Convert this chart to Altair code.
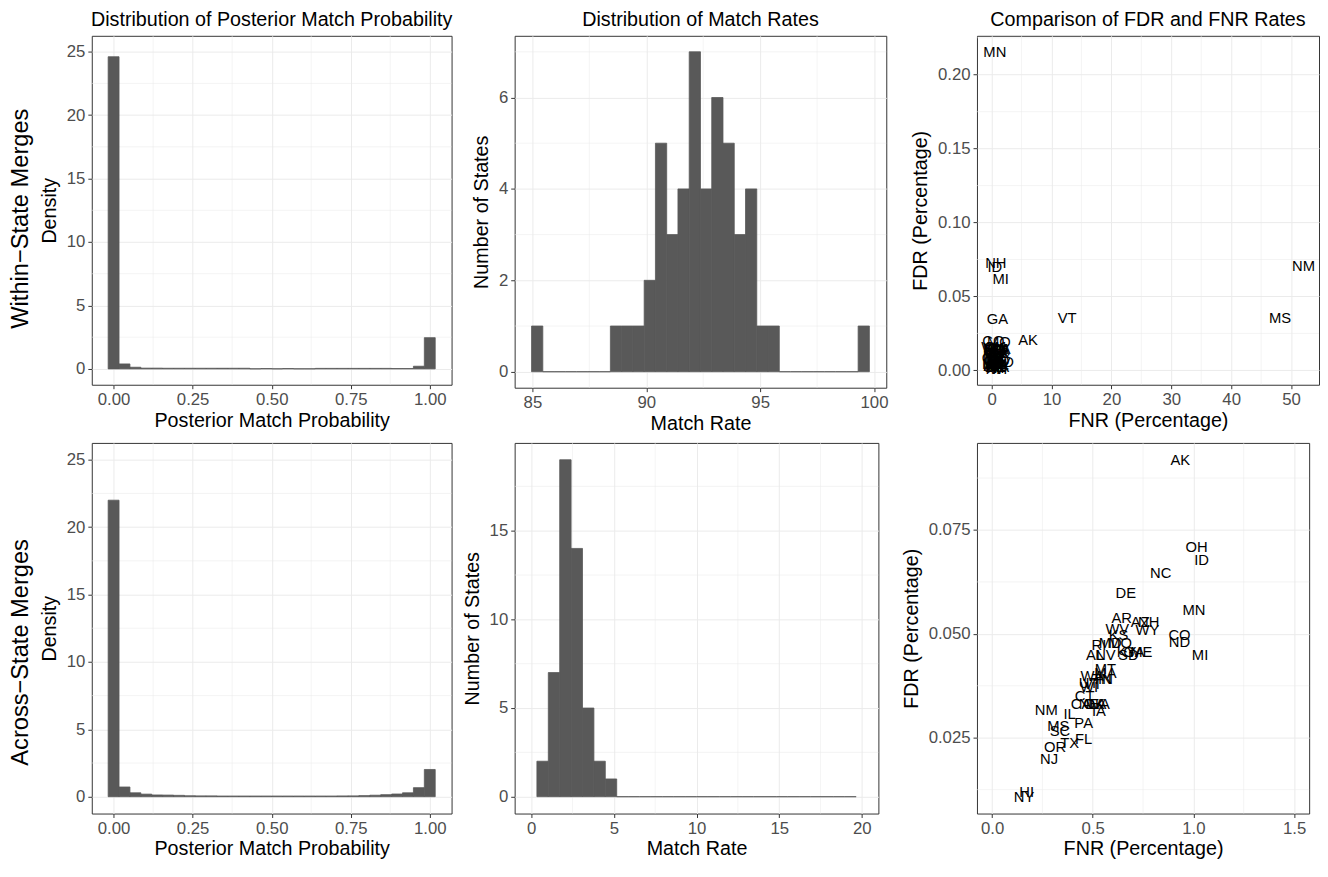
import altair as alt
import pandas as pd

FONT = "Liberation Sans"
BAR = "#595959"
GRID = "#EBEBEB"

# ---------------- text ----------------
row_labels = ["Within\u2212State Merges", "Across\u2212State Merges"]
panel_titles = ["Distribution of Posterior Match Probability",
                "Distribution of Match Rates",
                "Comparison of FDR and FNR Rates"]

# ---------------- posterior match probability (density, 30 bins) ----------------
post_bins = 30
post_within_density = [24.6, 0.39, 0.13, 0.06, 0.06, 0.05, 0.05, 0.05, 0.05, 0.05,
                       0.05, 0.05, 0.05, 0.01, 0.03, 0.01, 0.03, 0.01, 0.01, 0.04,
                       0.04, 0.04, 0.04, 0.04, 0.04, 0.04, 0.03, 0.03, 0.21, 2.46]
post_across_density = [22.0, 0.72, 0.29, 0.19, 0.13, 0.12, 0.10, 0.07, 0.06, 0.06,
                       0.05, 0.05, 0.05, 0.05, 0.05, 0.05, 0.05, 0.05, 0.05, 0.05,
                       0.05, 0.06, 0.06, 0.08, 0.11, 0.15, 0.20, 0.29, 0.67, 2.02]
post_ticks = [0, 0.25, 0.5, 0.75, 1.0]
post_minor = [0.125, 0.375, 0.625, 0.875]
density_limits = [0, 25]
density_ticks = [0, 5, 10, 15, 20, 25]
density_minor = [2.5, 7.5, 12.5, 17.5, 22.5]

# ---------------- match rates within states (counts, 30 bins) ----------------
rate_within_range = [85.21, 99.55]
rate_within_counts = [1, 0, 0, 0, 0, 0, 0, 1, 1, 1, 2, 5, 3, 4, 7,
                      4, 6, 5, 3, 4, 1, 1, 0, 0, 0, 0, 0, 0, 0, 1]
rate_within_ticks = [85, 90, 95, 100]
rate_within_minor = [87.5, 92.5, 97.5]
count_within_ticks = [0, 2, 4, 6]
count_within_minor = [1, 3, 5, 7]

# ---------------- match rates across states (counts, bins over limits 0-20) ----------------
rate_across_limits = [0, 20]
rate_across_counts = [2, 7, 19, 14, 5, 2, 1, 0, 0, 0, 0, 0, 0, 0,
                      0, 0, 0, 0, 0, 0, 0, 0, 0, 0, 0, 0, 0, 0]   # bins 1..28
rate_across_ticks = [0, 5, 10, 15, 20]
rate_across_minor = [2.5, 7.5, 12.5, 17.5]
count_across_ticks = [0, 5, 10, 15]
count_across_minor = [2.5, 7.5, 12.5, 17.5]

# ---------------- FDR vs FNR, within-state ----------------
within_states = ["MN", "NH", "ID", "MI", "GA", "VT", "AK", "MS", "NM", "CO",
                 "AL", "AZ", "AR", "CA", "CT", "DE", "FL", "HI", "IL", "IN",
                 "IA", "KS", "KY", "LA", "ME", "MD", "MA", "MO", "MT", "NE",
                 "NV", "NJ", "NY", "NC", "ND", "OH", "OK", "OR", "PA", "RI",
                 "SC", "SD", "TN", "TX", "UT", "VA", "WA", "WV", "WI", "WY"]
within_fnr = [0.54, 0.70, 0.54, 1.52, 0.97, 12.6, 6.08, 48.15, 52.07, 0.30,
              0.45, 0.80, 0.35, 1.10, 0.30, 0.60, 0.95, 0.20, 1.30, 0.55,
              0.70, 0.40, 0.85, 1.50, 0.25, 1.05, 0.65, 1.20, 0.30, 0.75,
              1.40, 0.50, 0.90, 1.15, 0.35, 0.60, 1.00, 0.20, 1.60, 0.75,
              1.25, 2.00, 0.45, 0.95, 0.15, 1.35, 0.55, 0.80, 1.10, 0.25]
within_fdr = [0.2156, 0.0723, 0.0700, 0.0616, 0.0345, 0.0356, 0.0207, 0.0356, 0.0705, 0.0195,
              0.0040, 0.0080, 0.0030, 0.0120, 0.0065, 0.0020, 0.0095, 0.0010, 0.0085, 0.0110,
              0.0055, 0.0090, 0.0035, 0.0140, 0.0045, 0.0060, 0.0130, 0.0190, 0.0100, 0.0025,
              0.0050, 0.0075, 0.0015, 0.0030, 0.0140, 0.0160, 0.0145, 0.0085, 0.0145, 0.0105,
              0.0115, 0.0055, 0.0120, 0.0045, 0.0025, 0.0020, 0.0150, 0.0130, 0.0010, 0.0155]
fnr_within_ticks = [0, 10, 20, 30, 40, 50]
fnr_within_minor = [5, 15, 25, 35, 45]
fdr_within_ticks = [0, 0.05, 0.10, 0.15, 0.20]
fdr_within_minor = [0.025, 0.075, 0.125, 0.175, 0.225]

# ---------------- FDR vs FNR, across-state ----------------
across_states = ["AK", "OH", "ID", "NC", "DE", "MN", "AR", "AZ", "NH", "WY",
                 "WV", "KS", "CO", "ND", "MI", "RI", "MD", "MO", "KY", "GA",
                 "ME", "AL", "NV", "SD", "MT", "MA", "WA", "TN", "IN", "WI",
                 "UT", "VT", "CT", "CA", "NE", "OK", "LA", "VA", "IA", "NM",
                 "IL", "PA", "MS", "SC", "TX", "FL", "OR", "NJ", "HI", "NY"]
across_fnr = [0.935, 1.016, 1.041, 0.838, 0.664, 1.003, 0.644, 0.736, 0.778, 0.772,
              0.622, 0.628, 0.931, 0.931, 1.033, 0.531, 0.587, 0.636, 0.668, 0.705,
              0.741, 0.512, 0.563, 0.677, 0.563, 0.563, 0.497, 0.545, 0.563, 0.482,
              0.480, 0.500, 0.460, 0.442, 0.482, 0.507, 0.523, 0.539, 0.531, 0.269,
              0.385, 0.455, 0.329, 0.337, 0.385, 0.455, 0.313, 0.283, 0.172, 0.159]
across_fdr = [0.0919, 0.0708, 0.0678, 0.0647, 0.0598, 0.0557, 0.0538, 0.0528, 0.0528, 0.0508,
              0.0512, 0.0498, 0.0498, 0.0479, 0.0448, 0.0474, 0.0477, 0.0477, 0.0457, 0.0457,
              0.0457, 0.0450, 0.0450, 0.0450, 0.0416, 0.0405, 0.0399, 0.0390, 0.0390, 0.0372,
              0.0382, 0.0378, 0.0350, 0.0330, 0.0330, 0.0330, 0.0330, 0.0330, 0.0315, 0.0317,
              0.0307, 0.0286, 0.0278, 0.0266, 0.0238, 0.0246, 0.0227, 0.0198, 0.0119, 0.0108]
fnr_across_limits = [0, 1.5]
fnr_across_ticks = [0.0, 0.5, 1.0, 1.5]
fnr_across_minor = [0.25, 0.75, 1.25]
fdr_across_ticks = [0.025, 0.050, 0.075]
fdr_across_minor = [0.0125, 0.0375, 0.0625, 0.0875]


# ---------------- helpers ----------------
def expand(lo, hi, mult=0.05):
    d = (hi - lo) * mult
    return [lo - d, hi + d]


def bin_frame(centers, width, values):
    return pd.DataFrame({
        "x0": [c - width / 2 for c in centers],
        "x1": [c + width / 2 for c in centers],
        "v": values,
    })


def axis(title, values, fmt):
    return alt.Axis(title=title, values=values, format=fmt, grid=True,
                    labelFlush=False)


def minor_grid(xminor, yminor, xs, ys, xa, ya):
    vx = alt.Chart(pd.DataFrame({"g": xminor})).mark_rule(
        color=GRID, strokeWidth=0.55).encode(x=alt.X("g:Q", scale=xs, axis=xa))
    hy = alt.Chart(pd.DataFrame({"g": yminor})).mark_rule(
        color=GRID, strokeWidth=0.55).encode(y=alt.Y("g:Q", scale=ys, axis=ya))
    return [vx, hy]


def hist_panel(df, xdom, ydom, xa, ya, xminor, yminor, w, h, title=None):
    xs = alt.Scale(domain=xdom, nice=False, zero=False)
    ys = alt.Scale(domain=ydom, nice=False, zero=False)
    bars = alt.Chart(df).mark_rect(fill=BAR, stroke=BAR, strokeWidth=0.8).encode(
        x=alt.X("x0:Q", scale=xs, axis=xa), x2="x1:Q",
        y=alt.Y("v:Q", scale=ys, axis=ya), y2=alt.datum(0))
    ch = alt.layer(*minor_grid(xminor, yminor, xs, ys, xa, ya), bars).properties(
        width=w, height=h)
    if title is not None:
        ch = ch.properties(title=alt.TitleParams(title, anchor="middle", frame="group"))
    return ch


def text_panel(df, xdom, ydom, xa, ya, xminor, yminor, w, h, title=None):
    xs = alt.Scale(domain=xdom, nice=False, zero=False)
    ys = alt.Scale(domain=ydom, nice=False, zero=False)
    txt = alt.Chart(df).mark_text(font=FONT, fontSize=15, color="black",
                                  align="center", baseline="middle").encode(
        x=alt.X("fnr:Q", scale=xs, axis=xa),
        y=alt.Y("fdr:Q", scale=ys, axis=ya),
        text="state:N")
    ch = alt.layer(*minor_grid(xminor, yminor, xs, ys, xa, ya), txt).properties(
        width=w, height=h)
    if title is not None:
        ch = ch.properties(title=alt.TitleParams(title, anchor="middle", frame="group"))
    return ch


def spacer(w, h):
    return alt.Chart(pd.DataFrame({"v": [0]})).mark_point(opacity=0).properties(
        width=w, height=h, view=alt.ViewBackground(stroke="transparent"))


def row_label(text, w, h, title_y):
    return alt.Chart(pd.DataFrame({"v": [0]})).mark_point(opacity=0).encode(
        y=alt.Y("v:Q", axis=alt.Axis(title=text, labels=False, ticks=False,
                                     domain=False, grid=False, titleFontSize=24,
                                     titlePadding=1, titleY=title_y,
                                     titleAlign="center"))
    ).properties(width=w, height=h, view=alt.ViewBackground(stroke="transparent"))


# ---------------- build data frames ----------------
pw = 1.0 / (post_bins - 1)
post_centers = [k * pw for k in range(post_bins)]
df_p1 = bin_frame(post_centers, pw, post_within_density)
df_p4 = bin_frame(post_centers, pw, post_across_density)
post_xdom = expand(post_centers[0] - pw / 2, post_centers[-1] + pw / 2)
dens_ydom = expand(*density_limits)

rw = (rate_within_range[1] - rate_within_range[0]) / (len(rate_within_counts) - 1)
rw_centers = [rate_within_range[0] + k * rw for k in range(len(rate_within_counts))]
df_p2 = bin_frame(rw_centers, rw, rate_within_counts)
p2_xdom = expand(rw_centers[0] - rw / 2, rw_centers[-1] + rw / 2)
p2_ydom = expand(0, max(rate_within_counts))

ra = (rate_across_limits[1] - rate_across_limits[0]) / 29
ra_centers = [rate_across_limits[0] + (k + 1) * ra for k in range(len(rate_across_counts))]
df_p5 = bin_frame(ra_centers, ra, rate_across_counts)
p5_xdom = expand(*rate_across_limits)
p5_ydom = expand(0, max(rate_across_counts))

df_p3 = pd.DataFrame({"state": within_states, "fnr": within_fnr, "fdr": within_fdr})
p3_xdom = expand(min(within_fnr), max(within_fnr))
p3_ydom = expand(min(within_fdr), max(within_fdr))

df_p6 = pd.DataFrame({"state": across_states, "fnr": across_fnr, "fdr": across_fdr})
p6_xdom = expand(*fnr_across_limits)
p6_ydom = expand(min(across_fdr), max(across_fdr))

# ---------------- panels ----------------
H1, H2 = 354, 376

P1 = hist_panel(df_p1, post_xdom, dens_ydom,
                axis("Posterior Match Probability", post_ticks, ".2f"),
                axis("Density", density_ticks, "d"),
                post_minor, density_minor, 365, H1, panel_titles[0])
P2 = hist_panel(df_p2, p2_xdom, p2_ydom,
                axis("Match Rate", rate_within_ticks, "d"),
                axis("Number of States", count_within_ticks, "d"),
                rate_within_minor, count_within_minor, 377, 357, panel_titles[1])
P3 = text_panel(df_p3, p3_xdom, p3_ydom,
                axis("FNR (Percentage)", fnr_within_ticks, "d"),
                axis("FDR (Percentage)", fdr_within_ticks, ".2f"),
                fnr_within_minor, fdr_within_minor, 347, H1, panel_titles[2])

P4 = hist_panel(df_p4, post_xdom, dens_ydom,
                axis("Posterior Match Probability", post_ticks, ".2f"),
                axis("Density", density_ticks, "d"),
                post_minor, density_minor, 365, H2)
P5 = hist_panel(df_p5, p5_xdom, p5_ydom,
                axis("Match Rate", rate_across_ticks, "d"),
                axis("Number of States", count_across_ticks, "d"),
                rate_across_minor, count_across_minor, 369, H2)
P6 = text_panel(df_p6, p6_xdom, p6_ydom,
                axis("FNR (Percentage)", fnr_across_ticks, ".1f"),
                axis("FDR (Percentage)", fdr_across_ticks, ".3f"),
                fnr_across_minor, fdr_across_minor, 337, H2)

L1 = row_label(row_labels[0], 59, H1, 185)
L2 = row_label(row_labels[1], 59, H2, 212)

chart = alt.concat(
    L1, P1, spacer(55, 10), P2, spacer(83, 10), P3,
    L2, P4, spacer(64, 10), P5, spacer(92, 10), P6,
    columns=6,
    spacing=alt.RowColnumber(row=56, column=0),
    bounds="flush",
    align=alt.RowColLayoutAlign(row="each", column="none"),
).properties(
    padding={"left": 0, "top": -5, "right": 0, "bottom": 0}
).configure_view(
    stroke="#333333", strokeWidth=1
).configure_axis(
    labelFont=FONT, titleFont=FONT, labelFontSize=17, titleFontSize=20,
    labelColor="#4D4D4D", titleColor="#000000", titleFontWeight="normal",
    tickColor="#333333", tickSize=4, tickWidth=1, domain=False,
    gridColor=GRID, gridWidth=1, labelPadding=3, titlePadding=3
).configure_axisY(
    titlePadding=7
).configure_title(
    font=FONT, fontSize=20, fontWeight="normal", color="#000000",
    anchor="middle", offset=6
)

chart.save("out.html", embed_options={"renderer": "svg", "actions": False})
